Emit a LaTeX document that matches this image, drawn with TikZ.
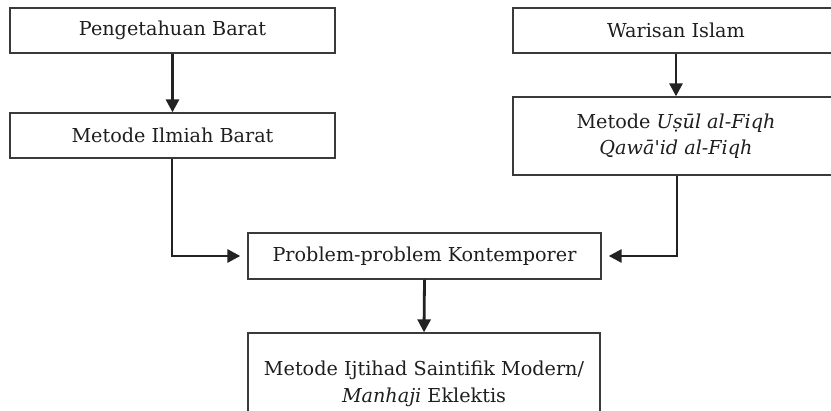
\documentclass[tikz,border=0pt]{standalone}
\usepackage{fontspec}
\setmainfont{DejaVu Serif}
\usetikzlibrary{arrows.meta}
\definecolor{boxline}{HTML}{3A3A3A}
\definecolor{arrowline}{HTML}{222222}
\definecolor{txt}{HTML}{1E1E1E}
\newcommand{\straightquote}{{\addfontfeatures{Ligatures=TeXOff}'}}
\begin{document}
\begin{tikzpicture}[x=1pt,y=-1pt,
  box/.style={draw=boxline,line width=1.3pt,inner sep=0pt,align=center,text=txt,
    font=\fontsize{19.2}{26.5}\selectfont},
  flow/.style={draw=arrowline,line width=2.8pt,-{Triangle[length=13pt,width=13pt]}}]
\useasboundingbox (0,0) rectangle (831,411);
\node[box,minimum width=325pt,minimum height=45pt] (n1) at (172.5,30.5) {Pengetahuan Barat};
\node[box,minimum width=325pt,minimum height=45pt] (n2) at (172.5,135.5) {Metode Ilmiah Barat};
\node[box,minimum width=326pt,minimum height=45pt] (n3) at (676,30.5) {Warisan Islam};
\node[box,minimum width=326pt,minimum height=78pt] (n4) at (676,136) {Metode \textit{Uṣūl al-Fiqh}\\\textit{Qawā\straightquote id al-Fiqh}};
\node[box,minimum width=353pt,minimum height=46pt] (n5) at (424.5,256) {Problem-problem Kontemporer};
\node[box,minimum width=352pt,minimum height=102pt] (n6) at (424,384) {Metode Ijtihad Saintifik Modern/\\\textit{Manhaji} Eklektis};
\draw[flow] (n1.south) -- (n2.north);
\draw[flow] (n3.south) -- (n4.north);
\draw[flow] (n5.south) -- (n6.north);
\draw[flow,shorten >=7pt] (n2.south -| 172,0) |- (n5.west);
\draw[flow,shorten >=7pt] (n4.south -| 677,0) |- (n5.east);
\end{tikzpicture}
\end{document}
